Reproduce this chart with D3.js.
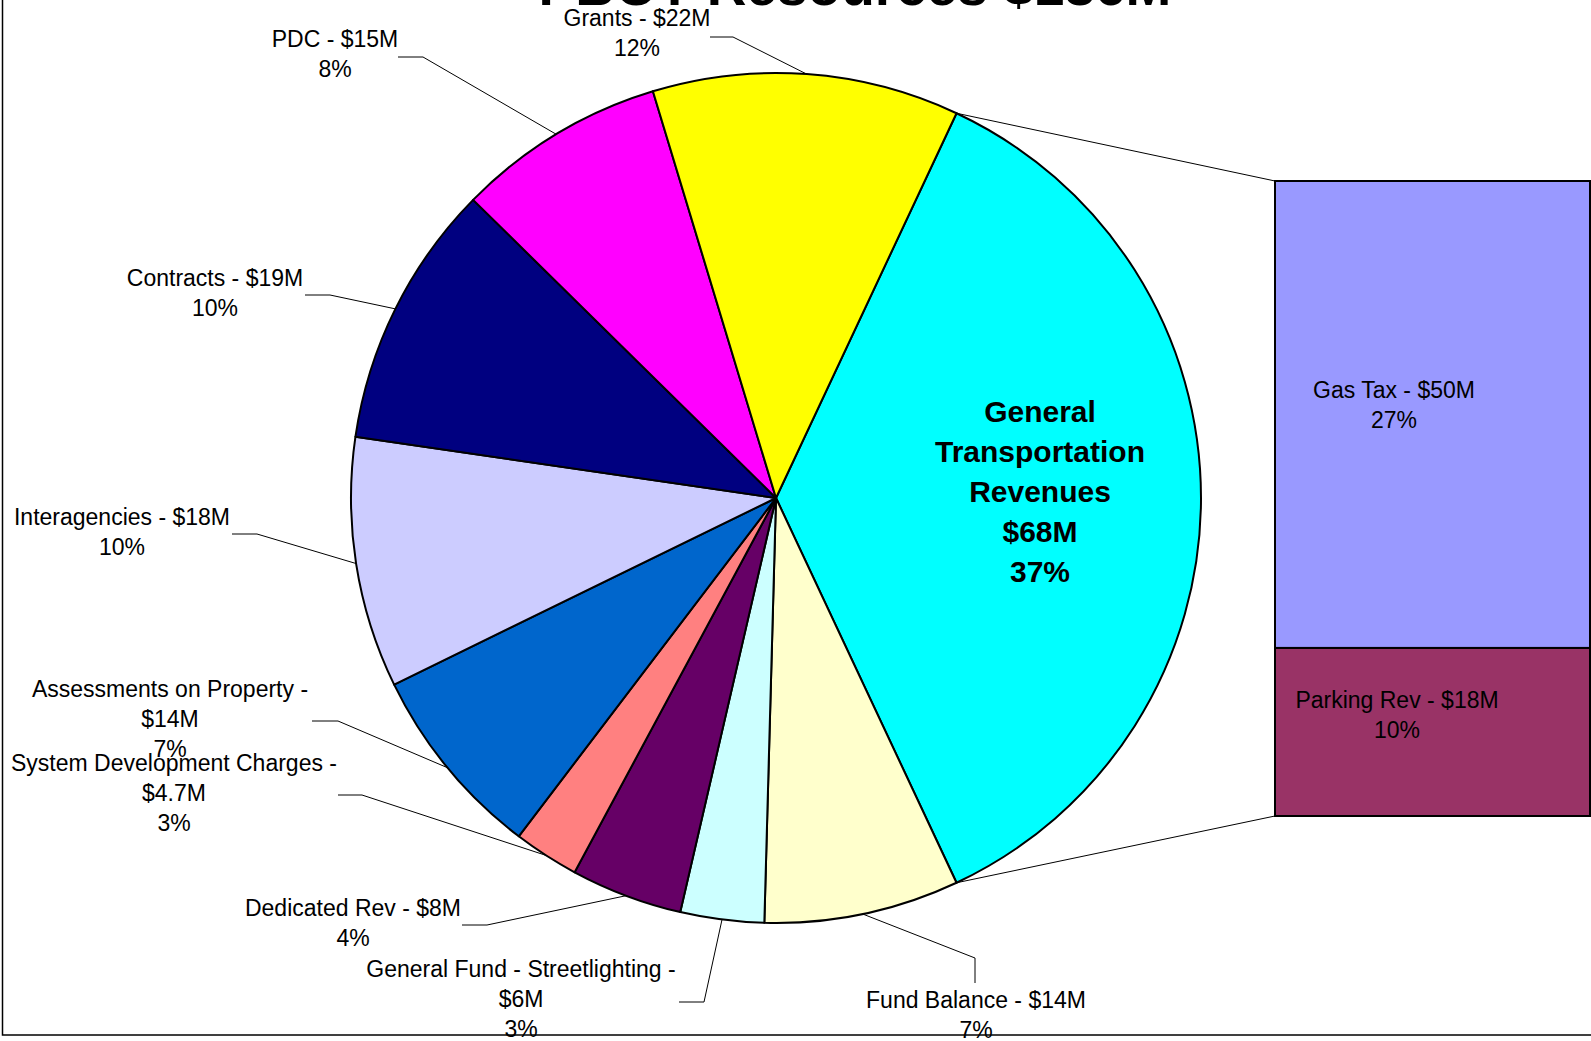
<!DOCTYPE html>
<html>
<head>
<meta charset="utf-8">
<script src="https://cdn.jsdelivr.net/npm/d3@7"></script>
<style>
  body { margin: 0; background: #fff; }
  svg { display: block; font-family: Arial, 'Liberation Sans', sans-serif; }
</style>
</head>
<body>
<div id="chart"></div>
<script>
// --- Data ---
const chartTitle = 'PBOT Resources $186M';

// pie slices, clockwise starting with the split-out slice
const sliceNames = ['General Transportation Revenues', 'Fund Balance', 'General Fund - Streetlighting',
  'Dedicated Rev', 'System Development Charges', 'Assessments on Property',
  'Interagencies', 'Contracts', 'PDC', 'Grants'];
const sliceValues = [68, 14, 6, 8, 4.7, 14, 18, 19, 15, 22];
const sliceValueLabels = ['$68M', '$14M', '$6M', '$8M', '$4.7M', '$14M', '$18M', '$19M', '$15M', '$22M'];
const slicePctLabels = ['37%', '7%', '3%', '4%', '3%', '7%', '10%', '10%', '8%', '12%'];
const sliceColors = ['#00ffff', '#ffffcc', '#ccffff', '#660066', '#ff8080', '#0066cc',
  '#ccccff', '#000080', '#ff00ff', '#ffff00'];

// breakdown bar of the first slice, bottom to top
const barNames = ['Parking Rev', 'Gas Tax'];
const barValues = [18, 50];
const barValueLabels = ['$18M', '$50M'];
const barPctLabels = ['10%', '27%'];
const barColors = ['#993366', '#9999ff'];

// --- Layout (label placement, not data) ---
// x = text centre, y = first baseline, leader = points from the text towards the slice
const labelLayout = [
  null,
  { x: 976, y: 1008, wrap: false, leader: [[975, 983], [975, 958]] },
  { x: 521, y: 977, wrap: true, leader: [[679, 1002], [704, 1002]] },
  { x: 353, y: 916, wrap: false, leader: [[462, 925], [487, 925]] },
  { x: 174, y: 771, wrap: true, leader: [[338, 795], [362, 795]] },
  { x: 170, y: 697, wrap: true, leader: [[312, 721], [338, 721]] },
  { x: 122, y: 525, wrap: false, leader: [[232, 534], [257, 534]] },
  { x: 215, y: 286, wrap: false, leader: [[305, 295], [330, 295]] },
  { x: 335, y: 47, wrap: false, leader: [[398, 57], [423, 57]] },
  { x: 637, y: 26, wrap: false, leader: [[710, 37], [733, 37]] }
];
const barLabelLayout = [{ x: 1397, y: 708 }, { x: 1394, y: 398 }];

const width = 1591, height = 1041;
const cx = 776, cy = 498, radius = 425;
const barX0 = 1275, barX1 = 1590, barTop = 181, barBottom = 816;
const lineH = 30;

const svg = d3.select('#chart').append('svg')
  .attr('width', width)
  .attr('height', height);

// chart frame (top and right edges fall outside the picture)
svg.append('rect')
  .attr('x', 2.5).attr('y', -60)
  .attr('width', 1660).attr('height', 1095)
  .attr('fill', '#fff')
  .attr('stroke', '#000')
  .attr('stroke-width', 1.5);

// title
svg.append('text')
  .attr('x', 855).attr('y', 5)
  .attr('text-anchor', 'middle')
  .style('font-size', '55px')
  .style('font-weight', 'bold')
  .text(chartTitle);

// --- Pie ---
const slices = sliceNames.map((name, i) => ({
  name, value: sliceValues[i], valueLabel: sliceValueLabels[i],
  pct: slicePctLabels[i], color: sliceColors[i]
}));
const total = d3.sum(sliceValues);
const splitAngle = sliceValues[0] / total * 2 * Math.PI;
const start = Math.PI / 2 - splitAngle / 2;

const pie = d3.pie()
  .value(d => d.value)
  .sort(null)
  .startAngle(start)
  .endAngle(start + 2 * Math.PI);

const arcs = pie(slices);
const arc = d3.arc().innerRadius(0).outerRadius(radius);
const edgeArc = d3.arc().innerRadius(radius).outerRadius(radius);

const pieG = svg.append('g').attr('transform', `translate(${cx},${cy})`);
pieG.selectAll('path')
  .data(arcs)
  .enter().append('path')
  .attr('d', arc)
  .attr('fill', d => d.data.color)
  .attr('stroke', '#000')
  .attr('stroke-width', 2)
  .attr('stroke-linejoin', 'round');

// --- Breakdown bar ---
const y = d3.scaleLinear()
  .domain([0, d3.sum(barValues)])
  .range([barBottom, barTop]);
const stackTops = d3.cumsum(barValues);
const bars = barNames.map((name, i) => ({
  name, value: barValues[i], valueLabel: barValueLabels[i], pct: barPctLabels[i],
  color: barColors[i], y0: stackTops[i] - barValues[i], y1: stackTops[i]
}));

svg.selectAll('rect.bar')
  .data(bars)
  .enter().append('rect')
  .attr('class', 'bar')
  .attr('x', barX0)
  .attr('y', d => y(d.y1))
  .attr('width', barX1 - barX0)
  .attr('height', d => y(d.y0) - y(d.y1))
  .attr('fill', d => d.color)
  .attr('stroke', '#000')
  .attr('stroke-width', 2);

// connectors from split slice edges to the bar corners
const a0 = arcs[0].startAngle, a1 = arcs[0].endAngle;
const connectors = [
  [[cx + radius * Math.sin(a0), cy - radius * Math.cos(a0)], [barX0, y(d3.sum(barValues))]],
  [[cx + radius * Math.sin(a1), cy - radius * Math.cos(a1)], [barX0, y(0)]]
];
svg.selectAll('line.conn')
  .data(connectors)
  .enter().append('line')
  .attr('class', 'conn')
  .attr('x1', d => d[0][0]).attr('y1', d => d[0][1])
  .attr('x2', d => d[1][0]).attr('y2', d => d[1][1])
  .attr('stroke', '#000')
  .attr('stroke-width', 1);

// --- Leader lines ---
const line = d3.line();
arcs.forEach((d, i) => {
  const lay = labelLayout[i];
  if (!lay) return;
  const c = edgeArc.centroid(d);
  const pts = lay.leader.concat([[cx + c[0], cy + c[1]]]);
  svg.append('path')
    .attr('d', line(pts))
    .attr('fill', 'none')
    .attr('stroke', '#000')
    .attr('stroke-width', 1);
});

// --- Labels ---
function multiline(x, y0, lines, size, weight) {
  const t = svg.append('text')
    .attr('text-anchor', 'middle')
    .style('font-size', size + 'px')
    .style('font-weight', weight);
  lines.forEach((s, k) => {
    t.append('tspan').attr('x', x).attr('y', y0 + k * (weight === 'bold' ? 40 : lineH)).text(s);
  });
}

arcs.forEach((d, i) => {
  const lay = labelLayout[i];
  if (!lay) return;
  const lines = lay.wrap
    ? [d.data.name + ' -', d.data.valueLabel, d.data.pct]
    : [d.data.name + ' - ' + d.data.valueLabel, d.data.pct];
  multiline(lay.x, lay.y, lines, 23, 'normal');
});

// split slice label, inside the slice
multiline(1040, 422, ['General', 'Transportation', 'Revenues', slices[0].valueLabel, slices[0].pct], 30, 'bold');

bars.forEach((d, i) => {
  const lay = barLabelLayout[i];
  multiline(lay.x, lay.y, [d.name + ' - ' + d.valueLabel, d.pct], 23, 'normal');
});
</script>
</body>
</html>
